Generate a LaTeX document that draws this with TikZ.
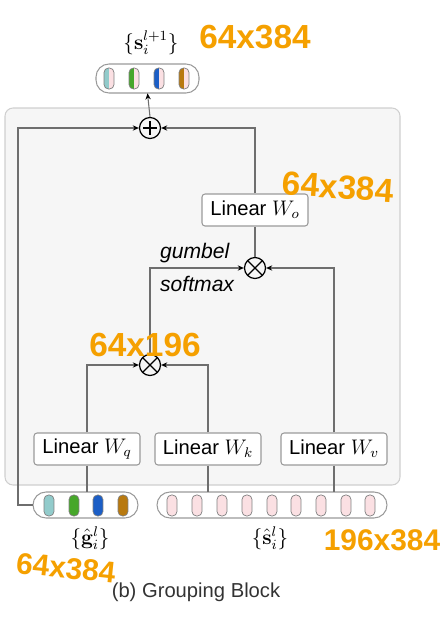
\documentclass[tikz,border=0pt]{standalone}
\usepackage[no-math]{fontspec}
\setmainfont{Liberation Sans}
\usetikzlibrary{arrows.meta}

\definecolor{linegray}{HTML}{6E6E6E}
\definecolor{boxgray}{HTML}{9A9A9A}
\definecolor{panelgray}{HTML}{F6F6F6}
\definecolor{panelline}{HTML}{CFCFCF}
\definecolor{tealc}{HTML}{92CBCB}
\definecolor{greenc}{HTML}{46A72A}
\definecolor{bluec}{HTML}{1B5EC6}
\definecolor{brownc}{HTML}{B8790F}
\definecolor{pinkc}{HTML}{FBE0E3}
\definecolor{penorange}{HTML}{F5A000}

\tikzset{
  lin/.style={draw=boxgray, fill=white, rounded corners=0.06cm, line width=0.6pt,
    minimum width=2.12cm, minimum height=0.64cm, inner sep=0pt,
    font=\fontsize{11.5}{13}\selectfont},
  pill/.style={draw=boxgray, fill=white, line width=0.6pt, rounded corners=0.26cm},
  opnode/.style={circle, draw, line width=0.7pt, minimum size=0.42cm, inner sep=0pt},
  flow/.style={draw=linegray, line width=0.6pt, -{Stealth[length=3.5pt,width=3pt,color=black]}},
  wire/.style={draw=linegray, line width=0.6pt},
  cellline/.style={draw=gray, line width=0.4pt},
  setlabel/.style={inner sep=0pt, font=\large},
  scribble/.style={text=penorange, font=\bfseries\fontsize{19}{19}\selectfont, inner sep=0pt}
}

% one token: x, top y, left colour, right colour
\newcommand{\tokcell}[4]{%
  \begin{scope}
    \clip[rounded corners=0.09cm] (#1-5,#2) rectangle (#1+5,#2+21);
    \fill[#3] (#1-5,#2) rectangle (#1,#2+21);
    \fill[#4] (#1,#2) rectangle (#1+5,#2+21);
  \end{scope}
  \draw[cellline, rounded corners=0.09cm] (#1-5,#2) rectangle (#1+5,#2+21);}

\begin{document}
\begin{tikzpicture}[x=0.02cm, y=-0.02cm]
  \useasboundingbox (0,0) rectangle (446,619);

  % block panel
  \draw[fill=panelgray, draw=panelline, line width=0.6pt, rounded corners=0.16cm]
    (5,108) rectangle (400,485);

  % token groups
  \draw[pill] (96,64) rectangle (199,93);
  \node[inner sep=0pt, minimum width=2.06cm, minimum height=0.58cm] (outpill) at (147.5,78.5) {};
  \foreach \x/\c in {109/tealc,134/greenc,159/bluec,184/brownc}
    \tokcell{\x}{68}{\c}{pinkc};

  \draw[pill] (33,492) rectangle (138,518);
  \node[inner sep=0pt, minimum width=2.1cm, minimum height=0.52cm] (gpill) at (85.5,505) {};
  \foreach \x/\c in {49/tealc,74/greenc,98/bluec,123/brownc}
    \tokcell{\x}{495}{\c}{\c};

  \draw[pill] (157,492) rectangle (387,518);
  \node[inner sep=0pt, minimum width=4.6cm, minimum height=0.52cm] (spill) at (272,505) {};
  \foreach \x in {172,197,222,247,272,296,321,346,370}
    \tokcell{\x}{495}{pinkc}{pinkc};

  % labels
  \node[setlabel] (outlab) at (151,43) {$\{\mathbf{s}_i^{l+1}\}$};
  \node[setlabel] (glab) at (90,538) {$\{\hat{\mathbf{g}}_i^{l}\}$};
  \node[setlabel] (slab) at (270,538) {$\{\hat{\mathbf{s}}_i^{l}\}$};
  \node[text=black!80, font=\fontsize{11.5}{13}\selectfont] (caption) at (196,592) {(b) Grouping Block};

  % linear layers
  \node[lin] (wq) at (87,449) {Linear $W_q$};
  \node[lin] (wk) at (208,449) {Linear $W_k$};
  \node[lin] (wv) at (334,449) {Linear $W_v$};
  \node[lin] (wo) at (255,210) {Linear $W_o$};

  % operators
  \node[opnode, path picture={\draw (path picture bounding box.north west) -- (path picture bounding box.south east)
    (path picture bounding box.north east) -- (path picture bounding box.south west);}] (attn) at (150,365) {};
  \node[opnode, path picture={\draw (path picture bounding box.north west) -- (path picture bounding box.south east)
    (path picture bounding box.north east) -- (path picture bounding box.south west);}] (gumb) at (255,268) {};
  \node[opnode, path picture={\draw ([yshift=-2pt]path picture bounding box.north) -- ([yshift=2pt]path picture bounding box.south)
    ([xshift=2pt]path picture bounding box.west) -- ([xshift=-2pt]path picture bounding box.east);}] (plus) at (150,128) {};

  \node[font=\itshape\fontsize{12}{14}\selectfont, anchor=west] (gumbtxt) at (154,253) {gumbel};
  \node[font=\itshape\fontsize{12}{14}\selectfont, anchor=west] (softtxt) at (154,284) {softmax};

  % connections
  \coordinate (lrail) at (18,128);
  \draw[wire] (wq.south) -- (wq.south |- gpill.north);
  \draw[wire] (wk.south) -- (wk.south |- spill.north);
  \draw[wire] (wv.south) -- (wv.south |- spill.north);
  \draw[flow] (wq.north) |- (attn.west);
  \draw[flow] (wk.north) |- (attn.east);
  \draw[flow] (attn.north) |- (gumb.west);
  \draw[flow] (wv.north) |- (gumb.east);
  \draw[wire] (gumb.north) -- (wo.south);
  \draw[flow] (wo.north) |- (plus.east);
  \draw[flow] (gpill.west) -| (lrail) -- (plus.west);
  \draw[flow] (plus.north) -- (outpill.south);

  % handwritten sizes
  \node[scribble] (n1) at (255,37) {64x384};
  \node[scribble, rotate=-4] (n2) at (338,187) {64x384};
  \node[scribble] (n3) at (145,345) {64x196};
  \node[scribble, rotate=-6, font=\bfseries\fontsize{17}{17}\selectfont] (n4) at (66,568) {64x384};
  \node[scribble, font=\bfseries\fontsize{17}{17}\selectfont] (n5) at (382,540) {196x384};
\end{tikzpicture}
\end{document}
